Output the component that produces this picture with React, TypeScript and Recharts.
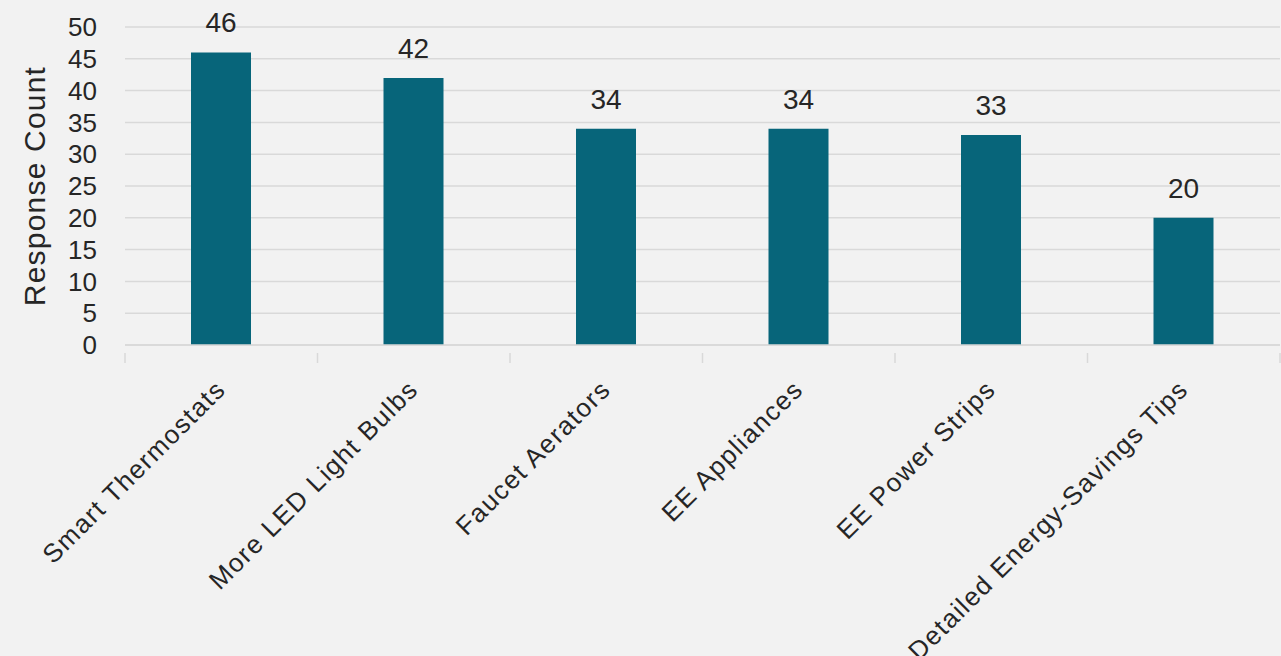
import React from "react";
import { BarChart, Bar, XAxis, YAxis, CartesianGrid, LabelList, Label } from "recharts";

const categories = [
  "Smart Thermostats",
  "More LED Light Bulbs",
  "Faucet Aerators",
  "EE Appliances",
  "EE Power Strips",
  "Detailed Energy-Savings Tips",
];
const responseCounts = [46, 42, 34, 34, 33, 20];
const yTicks = [0, 5, 10, 15, 20, 25, 30, 35, 40, 45, 50];

const data = categories.map((name, i) => ({ name, count: responseCounts[i] }));

const W = 1281;
const H = 656;
const LEFT = 125;
const RIGHT = 1;
const FONT = "'Liberation Sans', Arial, sans-serif";
const TEXT = "#262626";
const GRID = "#d9d9d9";
const halfBand = (W - LEFT - RIGHT) / categories.length / 2;

function CategoryTick(props: any) {
  const { x, y, payload, index } = props;
  return (
    <g>
      <line x1={x - halfBand} x2={x - halfBand} y1={y} y2={y + 10} stroke={GRID} strokeWidth={1.5} />
      {index === categories.length - 1 && (
        <line x1={x + halfBand} x2={x + halfBand} y1={y} y2={y + 10} stroke={GRID} strokeWidth={1.5} />
      )}
      <text
        transform={`translate(${x + 6},${y + 38}) rotate(-45)`}
        textAnchor="end"
        fontSize={26}
        letterSpacing={1.5}
        fontFamily={FONT}
        fill={TEXT}
      >
        {payload.value}
      </text>
    </g>
  );
}

export default function App() {
  return (
    <div style={{ position: "absolute", left: 0, top: 0, width: W, height: H, background: "#f2f2f2" }}>
      <BarChart width={W} height={H} data={data} margin={{ top: 27, right: RIGHT, left: 0, bottom: 0 }}>
        <CartesianGrid vertical={false} stroke={GRID} strokeWidth={1.5} />
        <XAxis
          dataKey="name"
          height={311}
          interval={0}
          tickLine={false}
          axisLine={{ stroke: GRID, strokeWidth: 1.5 }}
          tick={<CategoryTick />}
        />
        <YAxis
          width={LEFT}
          domain={[0, 50]}
          ticks={yTicks}
          interval={0}
          tickLine={false}
          axisLine={false}
          tickSize={0}
          tickMargin={28}
          tick={{ fontSize: 26, fontFamily: FONT, fill: TEXT }}
        >
          <Label
            content={(p: any) => {
              const vb = p.viewBox || {};
              const cy = (vb.y ?? 27) + (vb.height ?? 318) / 2;
              return (
                <text
                  x={45}
                  y={cy}
                  transform={`rotate(-90, 45, ${cy})`}
                  textAnchor="middle"
                  fontSize={30}
                  letterSpacing={1.2}
                  fontFamily={FONT}
                  fill={TEXT}
                >
                  Response Count
                </text>
              );
            }}
          />
        </YAxis>
        <Bar dataKey="count" fill="#07657a" barSize={60} isAnimationActive={false}>
          <LabelList dataKey="count" position="top" offset={20} fontSize={28} fontFamily={FONT} fill={TEXT} />
        </Bar>
      </BarChart>
    </div>
  );
}
